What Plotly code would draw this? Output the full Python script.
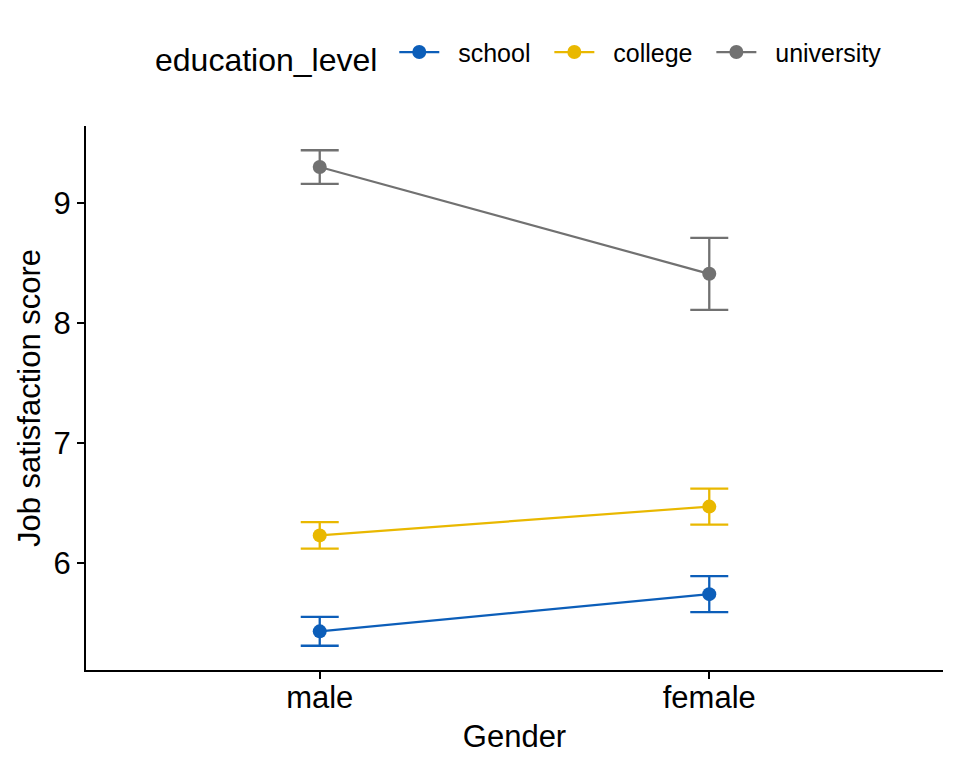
import plotly.graph_objects as go

genders = ["male", "female"]
levels = ["school", "college", "university"]
means = {
    "school": [5.43, 5.74],
    "college": [6.23, 6.47],
    "university": [9.30, 8.41],
}
errs = {
    "school": [0.12, 0.15],
    "college": [0.11, 0.15],
    "university": [0.14, 0.30],
}
colors = {"school": "#0C5EB9", "college": "#E9B800", "university": "#717171"}

NB = "\u00a0"
fig = go.Figure()
for lv in levels:
    fig.add_trace(go.Scatter(
        x=[1, 2], y=means[lv], name=NB * 2 + lv + NB * 2, mode="lines+markers",
        line=dict(color=colors[lv], width=2.2),
        marker=dict(color=colors[lv], size=14),
        error_y=dict(type="data", array=errs[lv], color=colors[lv], thickness=2.3, width=19),
    ))

font = "Liberation Sans, Arial, sans-serif"
fig.update_layout(
    width=960, height=768,
    margin=dict(l=86, r=17, t=126, b=98),
    plot_bgcolor="white", paper_bgcolor="white",
    font=dict(family=font, color="black", size=25),
    showlegend=True,
    legend=dict(
        orientation="h", x=0.514, xanchor="center",
        y=0.928, yref="container", yanchor="middle",
        title=dict(text="education_level ", font=dict(size=32)),
        font=dict(size=25),
        itemwidth=40,
    ),
    xaxis=dict(
        range=[0.4, 2.6], tickvals=[1, 2], ticktext=genders,
        showline=True, linecolor="black", linewidth=2, showgrid=False, zeroline=False,
        ticks="outside", ticklen=7, tickwidth=2, tickcolor="black",
        tickfont=dict(size=31), automargin=False, ticklabelstandoff=-8,
        title=dict(text="Gender", font=dict(size=31), standoff=11),
    ),
    yaxis=dict(
        range=[5.108, 9.642], tickvals=[6, 7, 8, 9],
        showline=True, linecolor="black", linewidth=2, showgrid=False, zeroline=False,
        ticks="outside", ticklen=7, tickwidth=2, tickcolor="black",
        tickfont=dict(size=31), automargin=False,
        title=dict(text="Job satisfaction score", font=dict(size=31), standoff=4),
    ),
)
fig.write_html("out.html")
